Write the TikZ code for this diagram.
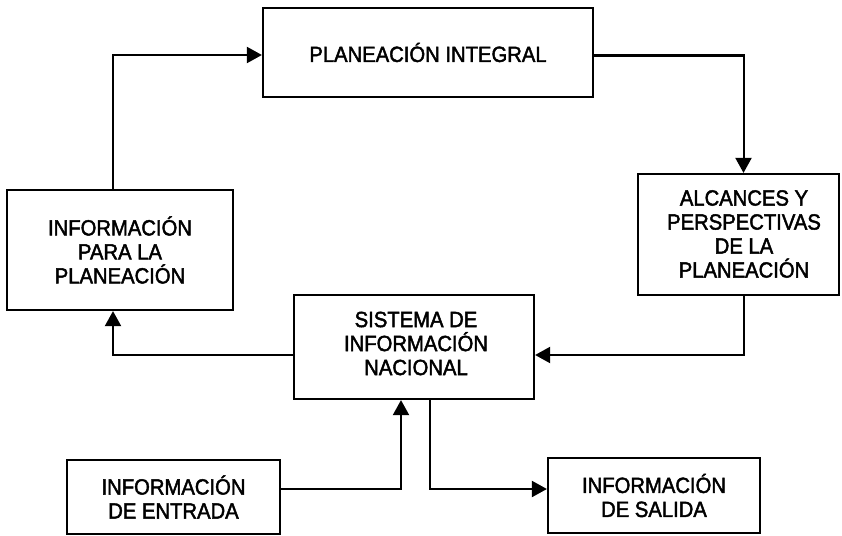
\documentclass[tikz,border=0pt]{standalone}
\usepackage{fontspec}
\setmainfont{Liberation Sans}[FakeBold=2, FakeStretch=0.92]
\usetikzlibrary{arrows.meta}
\tikzset{
  box/.style={draw, line width=2.2pt, inner sep=0pt, align=center,
    font=\fontsize{22}{24}\selectfont},
  lbl/.style={inner sep=0pt, align=center, font=\fontsize{22}{24}\selectfont},
  conn/.style={line width=2pt, -{Triangle[length=15pt,width=16pt]}}
}
\begin{document}
\begin{tikzpicture}[x=1pt,y=-1pt]
\useasboundingbox (0,0) rectangle (842,535);
\node[box, minimum width=330pt, minimum height=89pt] (top) at (428,52.5) {PLANEACIÓN INTEGRAL};
\node[box, minimum width=226pt, minimum height=120pt] (left) at (120,250) {INFORMACIÓN\\PARA LA\\PLANEACIÓN};
\node[box, minimum width=201pt, minimum height=121pt] (alc) at (738.5,234.5) {};
\node[lbl] (alct) at (744,234) {ALCANCES Y\\PERSPECTIVAS\\DE LA\\PLANEACIÓN};
\node[box, minimum width=240pt, minimum height=104pt] (sis) at (414,347) {};
\node[lbl] (sist) at (416,343.5) {SISTEMA DE\\INFORMACIÓN\\NACIONAL};
\node[box, minimum width=213pt, minimum height=74pt] (ent) at (173.5,497) {INFORMACIÓN\\DE ENTRADA};
\node[box, minimum width=212pt, minimum height=75pt] (sal) at (654,495.5) {INFORMACIÓN\\DE SALIDA};

\draw[conn] ([xshift=-7pt]left.north) |- ([yshift=-2.5pt]top.west);
\draw[conn] ([yshift=-3pt]top.east) -| ([xshift=5pt]alc.north);
\draw[conn] ([xshift=5pt]alc.south) |- ([yshift=-8pt]sis.east);
\draw[conn] ([yshift=-8pt]sis.west) -| ([xshift=-7pt]left.south);
\draw[conn] ([yshift=8pt]ent.east) -| ([xshift=-13pt]sis.south);
\draw[conn] ([xshift=16pt]sis.south) |- ([yshift=6.5pt]sal.west);
\end{tikzpicture}
\end{document}
